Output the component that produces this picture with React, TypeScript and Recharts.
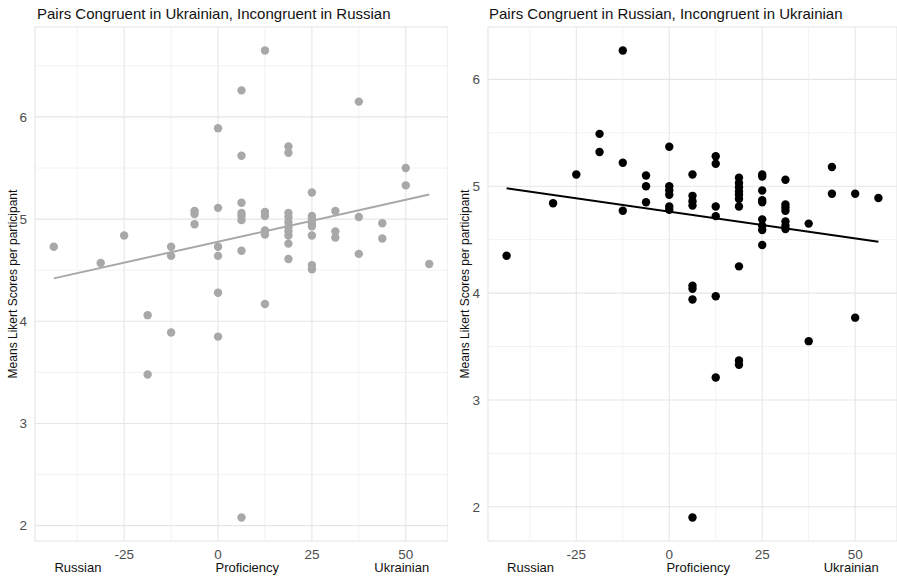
import { ScatterChart, Scatter, XAxis, YAxis, CartesianGrid, ReferenceLine } from "recharts";

// proficiency score (negative = Russian dominant, positive = Ukrainian dominant)
const ukrCongruentProficiency = [
    -43.75, -31.25, -25, -18.75, -18.75, -12.5, -12.5, -12.5, -6.25, -6.25, -6.25,
    0, 0, 0, 0, 0, 0, 6.25, 6.25, 6.25, 6.25, 6.25, 6.25, 6.25, 6.25,
    12.5, 12.5, 12.5, 12.5, 12.5, 12.5,
    18.75, 18.75, 18.75, 18.75, 18.75, 18.75, 18.75, 18.75, 18.75, 18.75,
    25, 25, 25, 25, 25, 25, 25, 25, 31.25, 31.25, 31.25, 37.5, 37.5, 37.5,
    43.75, 43.75, 50, 50, 56.25,
];
const ukrCongruentScores = [
    4.73, 4.57, 4.84, 4.06, 3.48, 4.73, 4.64, 3.89, 5.08, 5.05, 4.95,
    5.89, 5.11, 4.73, 4.64, 4.28, 3.85, 6.26, 5.62, 5.16, 5.06, 5.03, 4.99, 4.69, 2.08,
    6.65, 5.07, 5.03, 4.89, 4.85, 4.17,
    5.71, 5.65, 5.06, 5.02, 4.97, 4.92, 4.88, 4.84, 4.76, 4.61,
    5.26, 5.03, 5.0, 4.96, 4.93, 4.84, 4.55, 4.51, 5.08, 4.88, 4.82, 6.15, 5.02, 4.66,
    4.96, 4.81, 5.5, 5.33, 4.56,
];
const ukrFitProficiency = [-43.75, 56.25];
const ukrFitScores = [4.42, 5.24];

const rusCongruentProficiency = [
    -43.75, -31.25, -25, -18.75, -18.75, -12.5, -12.5, -12.5, -6.25, -6.25, -6.25,
    0, 0, 0, 0, 0, 0, 6.25, 6.25, 6.25, 6.25, 6.25, 6.25, 6.25, 6.25,
    12.5, 12.5, 12.5, 12.5, 12.5, 12.5,
    18.75, 18.75, 18.75, 18.75, 18.75, 18.75, 18.75, 18.75, 18.75, 18.75,
    25, 25, 25, 25, 25, 25, 25, 25, 25,
    31.25, 31.25, 31.25, 31.25, 31.25, 31.25, 31.25,
    37.5, 37.5, 43.75, 43.75, 50, 50, 56.25,
];
const rusCongruentScores = [
    4.35, 4.84, 5.11, 5.49, 5.32, 6.27, 5.22, 4.77, 5.1, 5.0, 4.85,
    5.37, 5.0, 4.96, 4.92, 4.81, 4.78, 5.11, 4.91, 4.86, 4.82, 4.07, 4.04, 3.94, 1.9,
    5.28, 5.21, 4.81, 4.72, 3.97, 3.21,
    5.08, 5.03, 4.99, 4.95, 4.92, 4.88, 4.81, 4.25, 3.37, 3.33,
    5.11, 5.09, 4.96, 4.87, 4.85, 4.69, 4.63, 4.59, 4.45,
    5.06, 4.83, 4.8, 4.77, 4.67, 4.63, 4.6,
    4.65, 3.55, 5.18, 4.93, 4.93, 3.77, 4.89,
];
const rusFitProficiency = [-43.75, 56.25];
const rusFitScores = [4.98, 4.48];

const proficiencyTicks = [-25, 0, 25, 50];
const proficiencyMinor = [-37.5, -12.5, 12.5, 37.5];
const scoreTicks = [2, 3, 4, 5, 6];
const scoreMinor = [2.5, 3.5, 4.5, 5.5, 6.5];
const axisNames = ["Russian", "Proficiency", "Ukrainian"];

const FONT = "'Liberation Sans', Arial, Helvetica, sans-serif";

function zip(xs: number[], ys: number[]) {
    return xs.map((x, i) => ({ x, y: ys[i] }));
}

function AxisNames({ viewBox }: any) {
    if (!viewBox) return null;
    const pos = [0.104, 0.514, 0.888];
    return (
        <g>
            {axisNames.map((name, i) => (
                <text
                    key={name}
                    x={viewBox.x + viewBox.width * pos[i]}
                    y={viewBox.y + 31}
                    textAnchor="middle"
                    fontSize={13}
                    fontFamily={FONT}
                    fill="#111"
                >
                    {name}
                </text>
            ))}
        </g>
    );
}

function ScoreLabel({ viewBox, cx }: any) {
    if (!viewBox) return null;
    const y = viewBox.y + viewBox.height / 2;
    return (
        <text
            x={cx}
            y={y}
            transform={`rotate(-90, ${cx}, ${y})`}
            textAnchor="middle"
            dominantBaseline="central"
            fontSize={12}
            fontFamily={FONT}
            fill="#111"
        >
            Means Likert Scores per participant
        </text>
    );
}

interface PanelProps {
    title: string;
    points: Array<{ x: number; y: number }>;
    fit: Array<{ x: number; y: number }>;
    color: string;
    yDomain: [number, number];
    width: number;
    marginLeft: number;
    yAxisWidth: number;
    labelX: number;
    titleX: number;
}

function Panel(p: PanelProps) {
    const minorY = scoreMinor.filter((v) => v <= p.yDomain[1]);
    return (
        <div style={{ position: "relative", width: p.width, height: 579 }}>
            <div
                style={{
                    position: "absolute",
                    left: p.titleX,
                    top: 5,
                    fontSize: 15,
                    fontFamily: FONT,
                    color: "#111",
                    whiteSpace: "nowrap",
                }}
            >
                {p.title}
            </div>
            <ScatterChart
                width={p.width}
                height={579}
                margin={{ top: 27, right: 0, bottom: 0, left: p.marginLeft }}
            >
                <CartesianGrid stroke="#e6e6e6" strokeWidth={1.1} />
                {proficiencyMinor.map((v) => (
                    <ReferenceLine key={`mx${v}`} x={v} stroke="#efefef" strokeWidth={0.8} />
                ))}
                {minorY.map((v) => (
                    <ReferenceLine key={`my${v}`} y={v} stroke="#efefef" strokeWidth={0.8} />
                ))}
                <XAxis
                    type="number"
                    dataKey="x"
                    domain={[-48.75, 61.25]}
                    ticks={proficiencyTicks}
                    allowDataOverflow
                    axisLine={false}
                    tickLine={false}
                    height={38}
                    tick={{ fill: "#4d4d4d", fontSize: 13.5, fontFamily: FONT }}
                    label={{ content: (lp: any) => <AxisNames viewBox={lp.viewBox} /> }}
                />
                <YAxis
                    type="number"
                    dataKey="y"
                    domain={p.yDomain}
                    ticks={scoreTicks}
                    allowDataOverflow
                    axisLine={false}
                    tickLine={false}
                    width={p.yAxisWidth}
                    tick={{ fill: "#4d4d4d", fontSize: 13.5, fontFamily: FONT }}
                    label={{ content: (lp: any) => <ScoreLabel viewBox={lp.viewBox} cx={p.labelX} /> }}
                />
                <Scatter
                    data={p.points}
                    isAnimationActive={false}
                    shape={(sp: any) => <circle cx={sp.cx} cy={sp.cy} r={4.2} fill={p.color} />}
                />
                <Scatter
                    data={p.fit}
                    isAnimationActive={false}
                    line={{ stroke: p.color, strokeWidth: 2 }}
                    shape={() => <g />}
                />
            </ScatterChart>
        </div>
    );
}

export default function App() {
    return (
        <div
            style={{
                position: "absolute",
                left: 0,
                top: 0,
                width: 897,
                height: 579,
                background: "#fff",
                display: "flex",
            }}
        >
            <Panel
                title="Pairs Congruent in Ukrainian, Incongruent in Russian"
                points={zip(ukrCongruentProficiency, ukrCongruentScores)}
                fit={zip(ukrFitProficiency, ukrFitScores)}
                color="#a8a8a8"
                yDomain={[1.85, 6.88]}
                width={448}
                marginLeft={10}
                yAxisWidth={25}
                labelX={13}
                titleX={37}
            />
            <Panel
                title="Pairs Congruent in Russian, Incongruent in Ukrainian"
                points={zip(rusCongruentProficiency, rusCongruentScores)}
                fit={zip(rusFitProficiency, rusFitScores)}
                color="#000"
                yDomain={[1.68, 6.49]}
                width={449}
                marginLeft={14}
                yAxisWidth={26}
                labelX={17}
                titleX={41}
            />
        </div>
    );
}
